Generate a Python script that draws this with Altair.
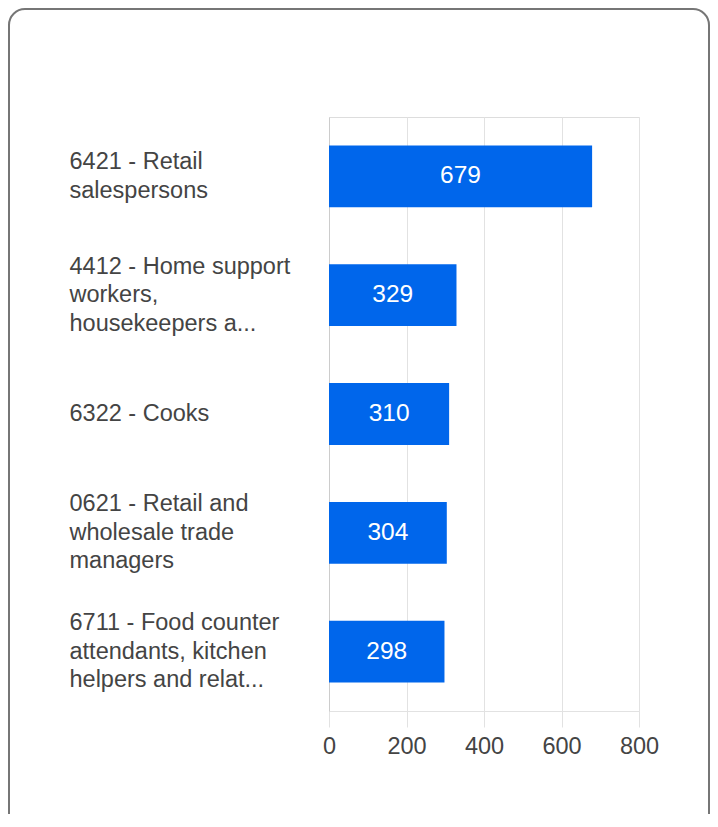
import altair as alt
import pandas as pd

categories = [
    "6421 - Retail|salespersons",
    "4412 - Home support|workers,|housekeepers a...",
    "6322 - Cooks",
    "0621 - Retail and|wholesale trade|managers",
    "6711 - Food counter|attendants, kitchen|helpers and relat...",
]
values = [679, 329, 310, 304, 298]
x_ticks = [0, 200, 400, 600, 800]

df = pd.DataFrame({"occupation": categories, "count": values})

FONT = "Liberation Sans"
BAR = "#0066EB"
LINE_H = 28.5

n_lines = "length(split(datum.value, '|'))"
label_offset = {
    "condition": [
        {"test": f"{n_lines} >= 3", "value": -LINE_H},
        {"test": f"{n_lines} == 2", "value": -LINE_H / 2},
    ],
    "value": 0,
}

y_enc = alt.Y(
    "occupation:N",
    sort=categories,
    scale=alt.Scale(paddingInner=0.48, paddingOuter=0.24),
    axis=alt.Axis(
        title=None,
        ticks=False,
        tickSize=0,
        domain=True,
        domainColor="#cccccc",
        labelAlign="left",
        labelBaseline="middle",
        labelPadding=260,
        labelLimit=0,
        labelFont=FONT,
        labelFontSize=23.5,
        labelColor="#444444",
        labelLineHeight=LINE_H,
        labelOffset=label_offset,
        labelExpr="split(datum.label, '|')",
    ),
)

x_scale = alt.Scale(domain=[0, 800], nice=False)
x_axis = alt.Axis(
    title=None,
    values=x_ticks,
    grid=True,
    gridColor="#e2e2e2",
    domainColor="#e2e2e2",
    tickColor="#e2e2e2",
    tickSize=16,
    labelPadding=7,
    labelFlush=False,
    labelFont=FONT,
    labelFontSize=23.5,
    labelColor="#444444",
)

bars = alt.Chart(df).mark_bar(color=BAR).encode(
    x=alt.X("count:Q", scale=x_scale, axis=x_axis),
    y=y_enc,
)

labels = (
    alt.Chart(df)
    .transform_calculate(mid="datum.count / 2")
    .mark_text(color="white", font=FONT, fontSize=24.5, align="center", baseline="middle")
    .encode(
        x=alt.X("mid:Q", scale=x_scale),
        y=alt.Y("occupation:N", sort=categories),
        text=alt.Text("count:Q"),
    )
)

card = (
    alt.Chart(alt.Data(values=[{"card": 1}]))
    .mark_rect(filled=False, stroke="#767676", strokeWidth=2, cornerRadius=16)
    .encode(
        x=alt.value(-320),
        x2=alt.value(380),
        y=alt.value(-108),
        y2=alt.value(740),
    )
)

chart = (
    alt.layer(card, bars, labels)
    .properties(
        width=310,
        height=594,
        autosize=alt.AutoSizeParams(type="none"),
        padding={"left": 321, "top": 109, "right": 71, "bottom": 103},
    )
    .configure_view(stroke=None)
    .configure(background="white")
)

chart.save("out.html", embed_options={"renderer": "svg", "actions": False})
